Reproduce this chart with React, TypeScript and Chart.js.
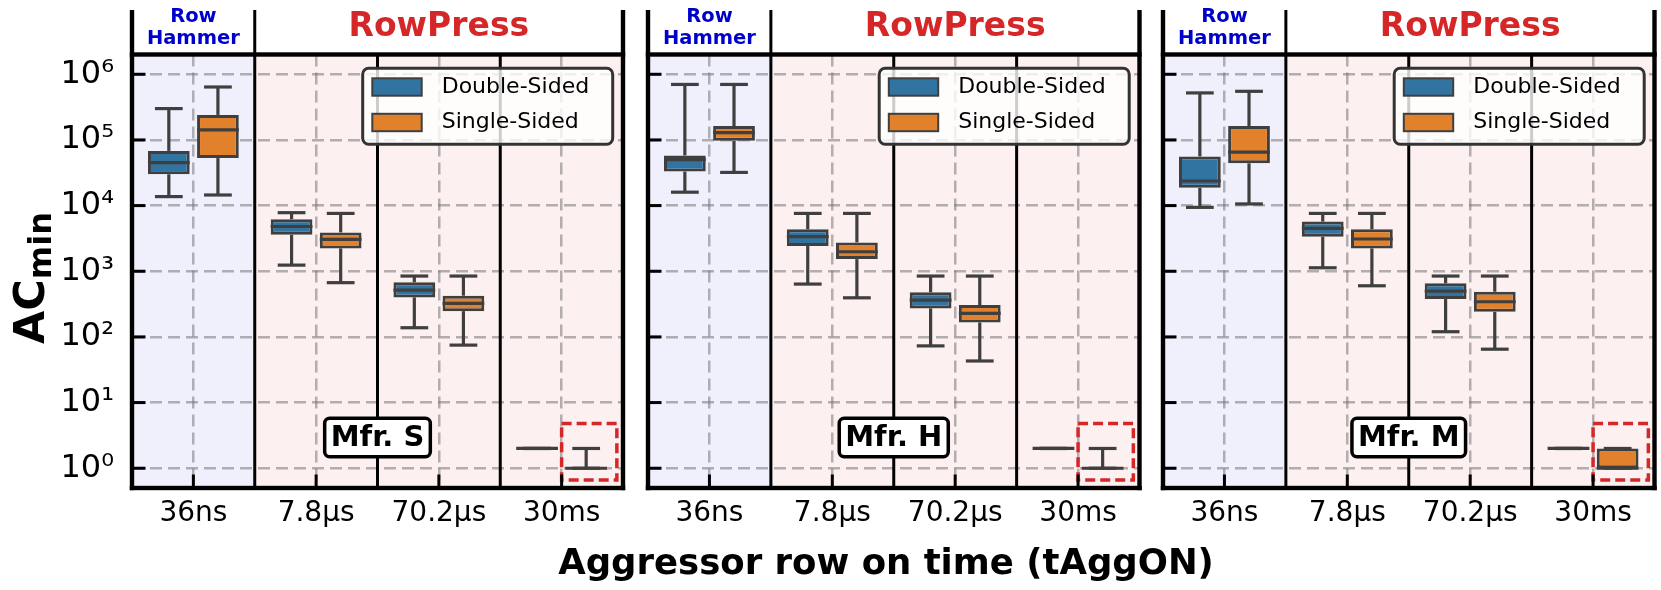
import React, { useEffect, useRef } from 'react';
import { Chart, registerables } from 'chart.js';

Chart.register(...registerables);

// ---------------- data ----------------
const categories = ['36ns', '7.8µs', '70.2µs', '30ms'];
const seriesLabels = ['Double-Sided', 'Single-Sided'];
const manufacturerLabels = ['Mfr. S', 'Mfr. H', 'Mfr. M'];
const headerLeftLines = ['Row', 'Hammer'];
const headerRightLabel = 'RowPress';
const xTitle = 'Aggressor row on time (tAggON)';
const yTitleMain = 'AC';
const yTitleSub = 'min';
const decadeTicks = [1, 10, 100, 1000, 10000, 100000, 1000000];
const superscriptDigits = ['⁰', '¹', '²', '³', '⁴', '⁵', '⁶'];
const yRange = [0.5, 2e6];

// five-number summaries per tAggON: [whisker low, Q1, median, Q3, whisker high]
const mfrSDoubleSided = [
  [13700, 30000, 45000, 68000, 300000],
  [1240, 3600, 4800, 6200, 7800],
  [138, 400, 517, 680, 845],
  [2, 2, 2, 2, 2],
];
const mfrSSingleSided = [
  [14500, 53000, 142000, 240000, 640000],
  [670, 2230, 3060, 3900, 7600],
  [75, 247, 324, 424, 845],
  [1, 1, 1, 1, 2],
];
const mfrHDoubleSided = [
  [16000, 33000, 50000, 58000, 700000],
  [638, 2420, 3360, 4350, 7600],
  [73, 272, 364, 477, 845],
  [2, 2, 2, 2, 2],
];
const mfrHSingleSided = [
  [32000, 97000, 129000, 163000, 700000],
  [394, 1530, 1980, 2750, 7600],
  [43, 166, 228, 305, 845],
  [1, 1, 1, 1, 2],
];
const mfrMDoubleSided = [
  [9400, 18700, 23700, 56000, 520000],
  [1130, 3360, 4500, 5700, 7600],
  [120, 377, 499, 654, 845],
  [2, 2, 2, 2, 2],
];
const mfrMSingleSided = [
  [10600, 44000, 65000, 163000, 550000],
  [601, 2230, 3100, 4350, 7600],
  [65, 241, 343, 487, 845],
  [1, 1, 1, 2, 2],
];

// highlighted 30ms single-sided region (category index span, value span)
const highlightCategorySpan = [3, 3.45];
const highlightValueSpan = [0.66, 4.8];

// ---------------- layout & style ----------------
const W = 1661;
const H = 590;
const PANEL_LEFT = [132, 648, 1163];
const PANEL_RIGHT = [623, 1139.5, 1654.5];
const PLOT_TOP = 54.5;
const PLOT_BOTTOM = 488;
const HEADER_TOP = 10;
const FONT = "'DejaVu Sans', sans-serif";
const COLORS = ['#3274a1', '#e1812c'];
const EDGE = '#3f3f3f';
const GRID = 'rgba(118,118,118,0.55)';
const RH_BG = 'rgb(239,240,252)';
const RP_BG = 'rgb(253,240,240)';
const RED = '#d62728';
const BLUE_TXT = '#0000cc';

const panelStats = [
  [mfrSDoubleSided, mfrSSingleSided],
  [mfrHDoubleSided, mfrHSingleSided],
  [mfrMDoubleSided, mfrMSingleSided],
];

function seg(ctx: CanvasRenderingContext2D, x1: number, y1: number, x2: number, y2: number) {
  ctx.beginPath();
  ctx.moveTo(x1, y1);
  ctx.lineTo(x2, y2);
  ctx.stroke();
}

function makeDecor(pi: number) {
  return {
    id: 'decor' + pi,
    beforeDraw(chart: any) {
      const { ctx, chartArea: a } = chart;
      const x = chart.scales.x;
      const sep = x.getPixelForValue(0.5);
      ctx.save();
      ctx.fillStyle = RH_BG;
      ctx.fillRect(a.left, a.top, sep - a.left, a.bottom - a.top);
      ctx.fillStyle = RP_BG;
      ctx.fillRect(sep, a.top, a.right - sep, a.bottom - a.top);
      ctx.restore();
    },
    afterDatasetsDraw(chart: any) {
      const { ctx } = chart;
      const x = chart.scales.x;
      const y = chart.scales.y;
      ctx.save();
      ctx.strokeStyle = EDGE;
      ctx.lineWidth = 3.2;
      ctx.lineCap = 'butt';
      chart.data.datasets.forEach((ds: any, di: number) => {
        const meta = chart.getDatasetMeta(di);
        meta.data.forEach((el: any, i: number) => {
          const s = ds.stats[i];
          const p = el.getProps(['x', 'width'], true);
          const cx = p.x;
          const bw = p.width;
          const cw = bw * 0.665;
          const [pLo, pQ1, pMed, pQ3, pHi] = s.map((v: number) => y.getPixelForValue(v));
          seg(ctx, cx, pQ1, cx, pLo);
          seg(ctx, cx, pQ3, cx, pHi);
          seg(ctx, cx - cw / 2, pLo, cx + cw / 2, pLo);
          seg(ctx, cx - cw / 2, pHi, cx + cw / 2, pHi);
          seg(ctx, cx - bw / 2, pMed, cx + bw / 2, pMed);
        });
      });
      // red dashed highlight
      ctx.strokeStyle = RED;
      ctx.lineWidth = 3.5;
      ctx.setLineDash([10, 5]);
      const hx0 = x.getPixelForValue(highlightCategorySpan[0]);
      const hx1 = x.getPixelForValue(highlightCategorySpan[1]);
      const hy0 = y.getPixelForValue(highlightValueSpan[0]);
      const hy1 = y.getPixelForValue(highlightValueSpan[1]);
      ctx.strokeRect(hx0, hy1, hx1 - hx0, hy0 - hy1);
      ctx.restore();
    },
    afterDraw(chart: any) {
      const { ctx, chartArea: a } = chart;
      const x = chart.scales.x;
      const y = chart.scales.y;
      ctx.save();
      ctx.fillStyle = '#000';
      // category separators
      for (let i = 0; i < categories.length - 1; i++) {
        const sx = x.getPixelForValue(i + 0.5);
        const top = i === 0 ? HEADER_TOP : a.top;
        ctx.fillRect(sx - 1.5, top, 3, a.bottom - top);
      }
      // spines
      const sw = 4.4;
      ctx.fillRect(a.left - sw / 2, HEADER_TOP, sw, a.bottom - HEADER_TOP + sw / 2);
      ctx.fillRect(a.right - sw / 2, HEADER_TOP, sw, a.bottom - HEADER_TOP + sw / 2);
      ctx.fillRect(a.left - sw / 2, a.bottom - sw / 2, a.right - a.left + sw, sw);
      ctx.fillRect(a.left - sw / 2, a.top - sw / 2, a.right - a.left + sw, sw);
      // inward ticks
      decadeTicks.forEach((v) => {
        const py = y.getPixelForValue(v);
        ctx.fillRect(a.left, py - 1.5, 13.5, 3);
      });
      categories.forEach((_, i) => {
        const px = x.getPixelForValue(i);
        ctx.fillRect(px - 1.5, a.bottom - 13.5, 3, 13.5);
      });
      // header texts
      ctx.textAlign = 'center';
      ctx.textBaseline = 'alphabetic';
      ctx.fillStyle = BLUE_TXT;
      ctx.font = `bold 19.5px ${FONT}`;
      const c0 = x.getPixelForValue(0);
      ctx.fillText(headerLeftLines[0], c0, 21.5);
      ctx.fillText(headerLeftLines[1], c0, 44);
      ctx.fillStyle = RED;
      ctx.font = `bold 33px ${FONT}`;
      ctx.fillText(headerRightLabel, (x.getPixelForValue(0.5) + a.right) / 2, 35.5);

      // legend
      const lw = 250;
      const lh = 76;
      const lx = a.right - 10.3 - lw;
      const ly = a.top + 13.8;
      ctx.beginPath();
      ctx.roundRect(lx, ly, lw, lh, 6);
      ctx.fillStyle = 'rgba(255,255,255,0.8)';
      ctx.fill();
      ctx.lineWidth = 3;
      ctx.strokeStyle = '#333';
      ctx.stroke();
      seriesLabels.forEach((lab, si) => {
        const cy = ly + 18.7 + si * 35.5;
        ctx.fillStyle = COLORS[si];
        ctx.fillRect(lx + 9.6, cy - 8.7, 49.4, 17.4);
        ctx.lineWidth = 2;
        ctx.strokeStyle = EDGE;
        ctx.strokeRect(lx + 9.6, cy - 8.7, 49.4, 17.4);
        ctx.fillStyle = '#000';
        ctx.font = `22px ${FONT}`;
        ctx.textAlign = 'left';
        ctx.textBaseline = 'middle';
        ctx.fillText(lab, lx + 79, cy);
      });

      // manufacturer label
      const name = manufacturerLabels[pi];
      ctx.font = `bold 29px ${FONT}`;
      const tw = ctx.measureText(name).width;
      const bw = tw + 12;
      const bh = 38.4;
      const bx = x.getPixelForValue(1.5);
      const by = a.bottom - 50.5;
      ctx.beginPath();
      ctx.roundRect(bx - bw / 2, by - bh / 2, bw, bh, 5);
      ctx.fillStyle = '#fff';
      ctx.fill();
      ctx.lineWidth = 3.5;
      ctx.strokeStyle = '#000';
      ctx.stroke();
      ctx.fillStyle = '#000';
      ctx.textAlign = 'center';
      ctx.textBaseline = 'alphabetic';
      ctx.fillText(name, bx, by + 8);

      if (pi === 0) {
        // x title
        ctx.font = `bold 35.5px ${FONT}`;
        ctx.textAlign = 'center';
        ctx.fillText(xTitle, 886, 574);
        // y title (rotated)
        ctx.save();
        ctx.translate(44, 278);
        ctx.rotate(-Math.PI / 2);
        ctx.font = `bold 43px ${FONT}`;
        const w1 = ctx.measureText(yTitleMain).width;
        ctx.font = `bold 32px ${FONT}`;
        const w2 = ctx.measureText(yTitleSub).width;
        const start = -(w1 + w2) / 2;
        ctx.textAlign = 'left';
        ctx.font = `bold 43px ${FONT}`;
        ctx.fillText(yTitleMain, start, 0);
        ctx.font = `bold 32px ${FONT}`;
        ctx.fillText(yTitleSub, start + w1, 7);
        ctx.restore();
      }
      ctx.restore();
    },
  };
}

function buildConfig(pi: number): any {
  const stats = panelStats[pi];
  return {
    type: 'bar',
    data: {
      labels: categories,
      datasets: seriesLabels.map((label, si) => ({
        label,
        data: stats[si].map((s) => [s[1], s[3]]),
        stats: stats[si],
        backgroundColor: COLORS[si],
        borderColor: EDGE,
        borderWidth: 3,
        borderSkipped: false,
        categoryPercentage: 0.8,
        barPercentage: 0.85,
      })),
    },
    options: {
      responsive: false,
      animation: false,
      devicePixelRatio: 1,
      events: [],
      layout: { padding: { left: 0, top: PLOT_TOP, right: W - PANEL_RIGHT[pi], bottom: 0 } },
      plugins: { legend: { display: false }, tooltip: { enabled: false }, title: { display: false } },
      scales: {
        x: {
          type: 'category',
          offset: true,
          grid: { offset: false, color: GRID, lineWidth: 2.5, drawTicks: false },
          border: { display: false, dash: [12, 6] },
          ticks: {
            color: '#000',
            font: { family: FONT, size: 28 },
            padding: 9,
            autoSkip: false,
            maxRotation: 0,
            minRotation: 0,
          },
          afterFit: (s: any) => {
            s.height = H - PLOT_BOTTOM;
          },
        },
        y: {
          type: 'logarithmic',
          min: yRange[0],
          max: yRange[1],
          grid: { color: GRID, lineWidth: 2.5, drawTicks: false },
          border: { display: false, dash: [12, 6] },
          afterBuildTicks: (s: any) => {
            s.ticks = decadeTicks.map((v) => ({ value: v }));
          },
          ticks: {
            display: pi === 0,
            color: '#000',
            font: { family: FONT, size: 32 },
            padding: 18,
            callback: (v: number) => '10' + superscriptDigits[Math.round(Math.log10(v))],
          },
          afterFit: (s: any) => {
            s.width = PANEL_LEFT[pi];
          },
        },
      },
    },
    plugins: [makeDecor(pi)],
  };
}

function Panel({ index }: { index: number }) {
  const ref = useRef<HTMLCanvasElement | null>(null);
  useEffect(() => {
    if (!ref.current) return;
    const chart = new Chart(ref.current, buildConfig(index));
    return () => chart.destroy();
  }, [index]);
  return (
    <canvas
      ref={ref}
      width={W}
      height={H}
      style={{ position: 'absolute', left: 0, top: 0, width: W, height: H }}
    />
  );
}

export default function App() {
  return (
    <div
      style={{
        position: 'absolute',
        left: 0,
        top: 0,
        width: W,
        height: H,
        background: '#fff',
        overflow: 'hidden',
      }}
    >
      {[0, 1, 2].map((i) => (
        <Panel key={i} index={i} />
      ))}
    </div>
  );
}
